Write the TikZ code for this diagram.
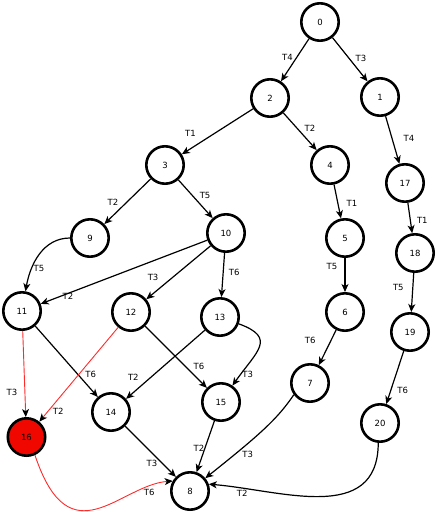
\documentclass[tikz,border=0pt]{standalone}
\usepackage{fontspec}
\setmainfont{DejaVu Sans}
\usetikzlibrary{positioning,arrows.meta}
\definecolor{HotRed}{HTML}{F00800}
\definecolor{LinkRed}{HTML}{FF2B2B}

\begin{document}
\begin{tikzpicture}[x=1pt,y=-1pt,font=\fontsize{8.5}{10}\selectfont,
  state/.style={draw,circle,line width=2.6pt,minimum size=37.4pt,inner sep=0pt},
  link/.style={-{Stealth[length=8pt,width=7pt,inset=2.2pt,black]},line width=1.2pt},
  redlink/.style={link,draw=LinkRed,line width=0.9pt},
  lbl/.style={inner sep=1pt,text=black}]
\useasboundingbox (0,0) rectangle (436,512);
\foreach \i/\x/\y in {0/320/22, 1/380/97, 2/270/98, 3/165/165, 4/330/165, 17/405/183,
  5/345/238, 18/415/253, 9/90/238, 10/226/233, 11/22/311, 12/131/312, 13/220/317,
  6/345/312, 19/410/332, 7/310/383, 14/111/412, 15/221/402, 20/380/423, 8/190/491} {
  \node[state] (n\i) at (\x,\y) {\i};
}
\node[state,fill=HotRed] (n16) at (26.5,437) {16};
% straight connectors
\foreach \a/\b/\t/\p/\dx/\dy in {0/2/T4/.45/-9/0, 0/1/T3/.47/12/0, 2/3/T1/.88/0/15.5,
  2/4/T2/.41/13/0, 1/17/T4/.46/17/0, 3/9/T2/.51/-14/0, 3/10/T5/.40/13/0, 4/5/T1/.57/14/0,
  17/18/T1/.57/12/0, 10/11/T2/.836/0/-3, 10/12/T3/.584/-20/0, 10/13/T6/.43/11/0,
  5/6/T5/.26/-13/0, 18/19/T5/.36/-14.5/0, 11/14/T6/.68/13/0, 12/15/T6/.646/14/0,
  13/14/T2/.68/-18/0, 6/7/T6/.29/-21/0, 19/20/T6/.75/12/0, 14/8/T3/.727/-10/0,
  15/8/T2/.53/-6/0} {
  \draw[link] (n\a) -- node[lbl,pos=\p,xshift=\dx pt,yshift=\dy pt] {\t} (n\b);
}
\draw[redlink] (n11) -- node[lbl,pos=.71,xshift=-13pt] {T3} (n16);
\draw[redlink] (n12) -- node[lbl,pos=.887,xshift=10pt] {T2} (n16);
% curved connectors
\draw[link] (n9) to[out=180,in=80] node[lbl,pos=.7,right] {T5} (n11);
\draw[link] (n13) to[out=-20,in=55,looseness=1.7] node[lbl,pos=.88,right] {T3} (n15);
\draw[link] (n7.-144) .. controls (278,418) and (262,433) .. node[lbl,pos=.75,below right] {T3} (n8.40);
\draw[link] (n20.265) .. controls (378,525) and (280,490) .. node[lbl,pos=.85,below] {T2} (n8.20);
\draw[redlink] (n16.-65) .. controls (70,560) and (120,485) .. node[lbl,pos=.85,below=1pt] {T6} (n8.150);
\end{tikzpicture}
\end{document}
